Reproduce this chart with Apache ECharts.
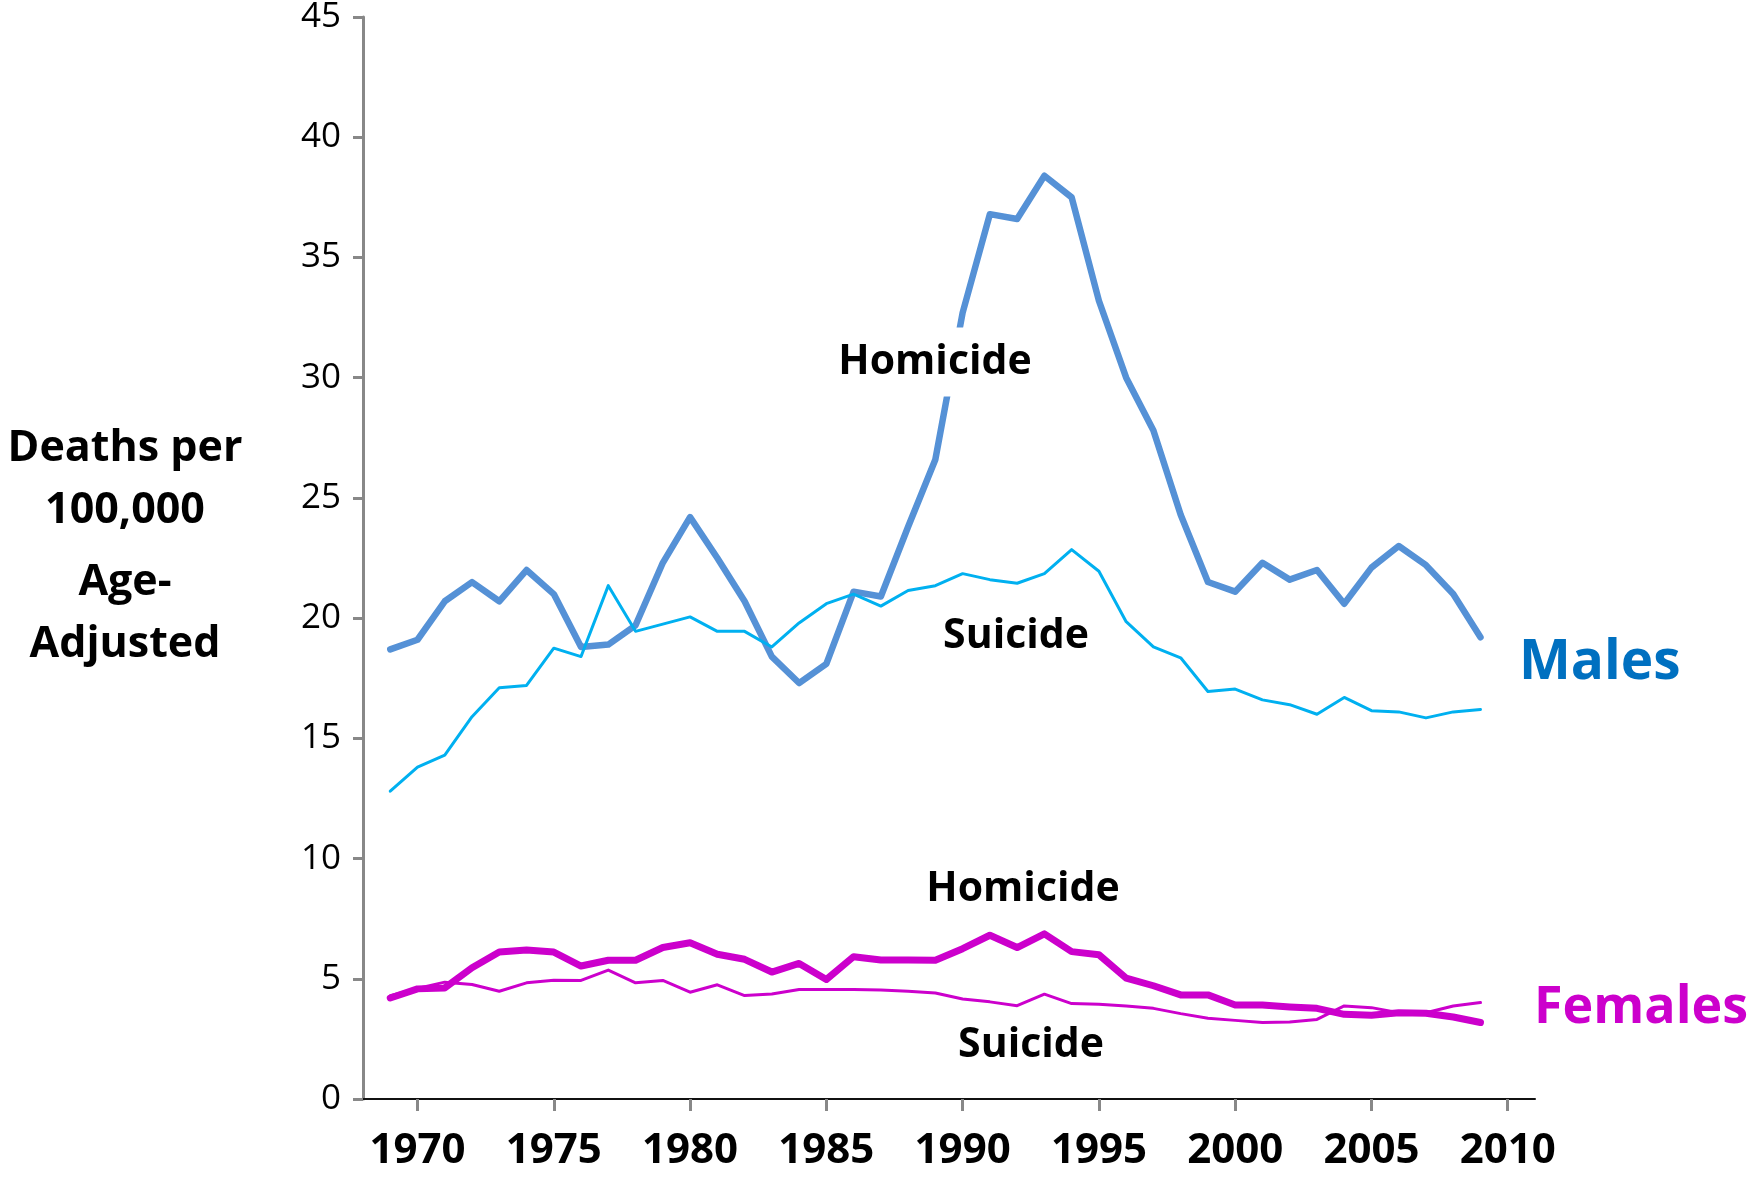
<!DOCTYPE html>
<html>
<head>
<meta charset="utf-8">
<script src="https://cdn.jsdelivr.net/npm/echarts@6/dist/echarts.min.js"></script>
<style>
html,body{margin:0;padding:0;background:#fff;}
#chart{width:1748px;height:1182px;}
</style>
</head>
<body>
<div id="chart"></div>
<script>
const years = [1969,1970,1971,1972,1973,1974,1975,1976,1977,1978,1979,1980,1981,1982,1983,1984,1985,1986,1987,1988,1989,1990,1991,1992,1993,1994,1995,1996,1997,1998,1999,2000,2001,2002,2003,2004,2005,2006,2007,2008,2009];
const maleHomicide = [18.7,19.1,20.7,21.5,20.7,22.0,21.0,18.8,18.9,19.7, 22.3,24.2,22.5,20.7,18.4,17.3,18.1,21.1,20.9,23.8, 26.6,32.7,36.8,36.6,38.4,37.5,33.2,30.0,27.8,24.3, 21.5,21.1,22.3,21.6,22.0,20.6,22.1,23.0,22.2,21.0,19.2];
const maleSuicide = [12.8,13.8,14.3,15.9,17.1,17.2,18.75,18.4,21.35,19.45, 19.75,20.05,19.45,19.45,18.8,19.8,20.6,21.0,20.5,21.15, 21.35,21.85,21.6,21.45,21.85,22.85,21.95,19.85,18.8,18.35, 16.95,17.05,16.6,16.4,16.0,16.7,16.15,16.1,15.85,16.1,16.2];
const femaleHomicide = [4.2,4.58,4.62,5.46,6.11,6.2,6.11,5.53,5.77,5.77, 6.3,6.5,6.02,5.81,5.28,5.64,4.97,5.92,5.78,5.78, 5.77,6.25,6.81,6.3,6.87,6.13,6.0,5.03,4.71,4.33, 4.33,3.91,3.91,3.83,3.77,3.52,3.48,3.59,3.57,3.41,3.18];
const femaleSuicide = [4.3,4.6,4.86,4.76,4.48,4.83,4.94,4.93,5.36,4.83, 4.93,4.44,4.75,4.3,4.37,4.55,4.55,4.55,4.53,4.48, 4.41,4.16,4.04,3.88,4.36,3.97,3.94,3.87,3.77,3.55, 3.36,3.27,3.18,3.2,3.31,3.87,3.8,3.59,3.59,3.87,4.01];
const xTickLabels = [1970,1975,1980,1985,1990,1995,2000,2005,2010];
const yTickLabels = [0,5,10,15,20,25,30,35,40,45];

const pairs = arr => years.map((y,i) => [y, arr[i]]);
const FONT = '"Open Sans", "Noto Sans", sans-serif';

const chart = echarts.init(document.getElementById('chart'), null, {renderer:'canvas'});
const lineSeries = (name, arr, color, width, z) => ({
  name, type:'line', data: pairs(arr), symbol:'none', z,
  lineStyle:{color, width, cap:'round', join:'round'},
  animation:false
});

chart.setOption({
  backgroundColor:'#fff',
  animation:false,
  grid:{left:363, right:213, top:17, bottom:83, outerBoundsMode:'none'},
  xAxis:{
    type:'value', min:1968, max:2011,
    axisLine:{show:true, onZero:true, lineStyle:{color:'#111', width:2}},
    axisTick:{show:true, customValues:xTickLabels, length:12, lineStyle:{color:'#888', width:3}},
    axisLabel:{show:true, customValues:xTickLabels, margin:31, color:'#000', fontFamily:FONT, fontWeight:'bold', fontSize:42,
      formatter: v => String(v)},
    splitLine:{show:false}
  },
  yAxis:{
    type:'value', min:0, max:45, interval:5,
    axisLine:{show:true, lineStyle:{color:'#888', width:3}},
    axisTick:{show:true, inside:false, length:10, lineStyle:{color:'#888', width:3}},
    axisLabel:{margin:22, color:'#000', fontFamily:FONT, fontSize:35,
      formatter: v => yTickLabels.includes(v) ? String(v) : ''},
    splitLine:{show:false}
  },
  series:[
    lineSeries('Male Homicide', maleHomicide, '#5591D6', 6.5, 3),
    lineSeries('Male Suicide', maleSuicide, '#00B0F0', 3, 4),
    lineSeries('Female Homicide', femaleHomicide, '#CC00CC', 7, 3),
    lineSeries('Female Suicide', femaleSuicide, '#CC00CC', 3, 4)
  ],
  graphic:[
    {type:'text', z:100, style:{text:'Homicide', x:935, y:362, align:'center', verticalAlign:'middle',
      font:'bold 41px ' + FONT, fill:'#000', backgroundColor:'#fff', padding:[14,8,14,8]}},
    {type:'text', z:100, style:{text:'Suicide', x:1016, y:636, align:'center', verticalAlign:'middle',
      font:'bold 41px ' + FONT, fill:'#000'}},
    {type:'text', z:100, style:{text:'Homicide', x:1023, y:889, align:'center', verticalAlign:'middle',
      font:'bold 41px ' + FONT, fill:'#000'}},
    {type:'text', z:100, style:{text:'Suicide', x:1031, y:1045, align:'center', verticalAlign:'middle',
      font:'bold 41px ' + FONT, fill:'#000'}},
    {type:'text', z:100, style:{text:'Males', x:1519, y:663, align:'left', verticalAlign:'middle',
      font:'bold 55px ' + FONT, fill:'#0070C0'}},
    {type:'text', z:100, style:{text:'Females', x:1534, y:1008, align:'left', verticalAlign:'middle',
      font:'bold 52px ' + FONT, fill:'#CC00CC'}},
    {type:'text', z:100, style:{text:'Deaths per', x:125, y:449, align:'center', verticalAlign:'middle',
      font:'bold 43px ' + FONT, fill:'#000'}},
    {type:'text', z:100, style:{text:'100,000', x:125, y:511, align:'center', verticalAlign:'middle',
      font:'bold 43px ' + FONT, fill:'#000'}},
    {type:'text', z:100, style:{text:'Age-', x:125, y:583, align:'center', verticalAlign:'middle',
      font:'bold 43px ' + FONT, fill:'#000'}},
    {type:'text', z:100, style:{text:'Adjusted', x:125, y:645, align:'center', verticalAlign:'middle',
      font:'bold 43px ' + FONT, fill:'#000'}}
  ]
});
</script>
</body>
</html>
